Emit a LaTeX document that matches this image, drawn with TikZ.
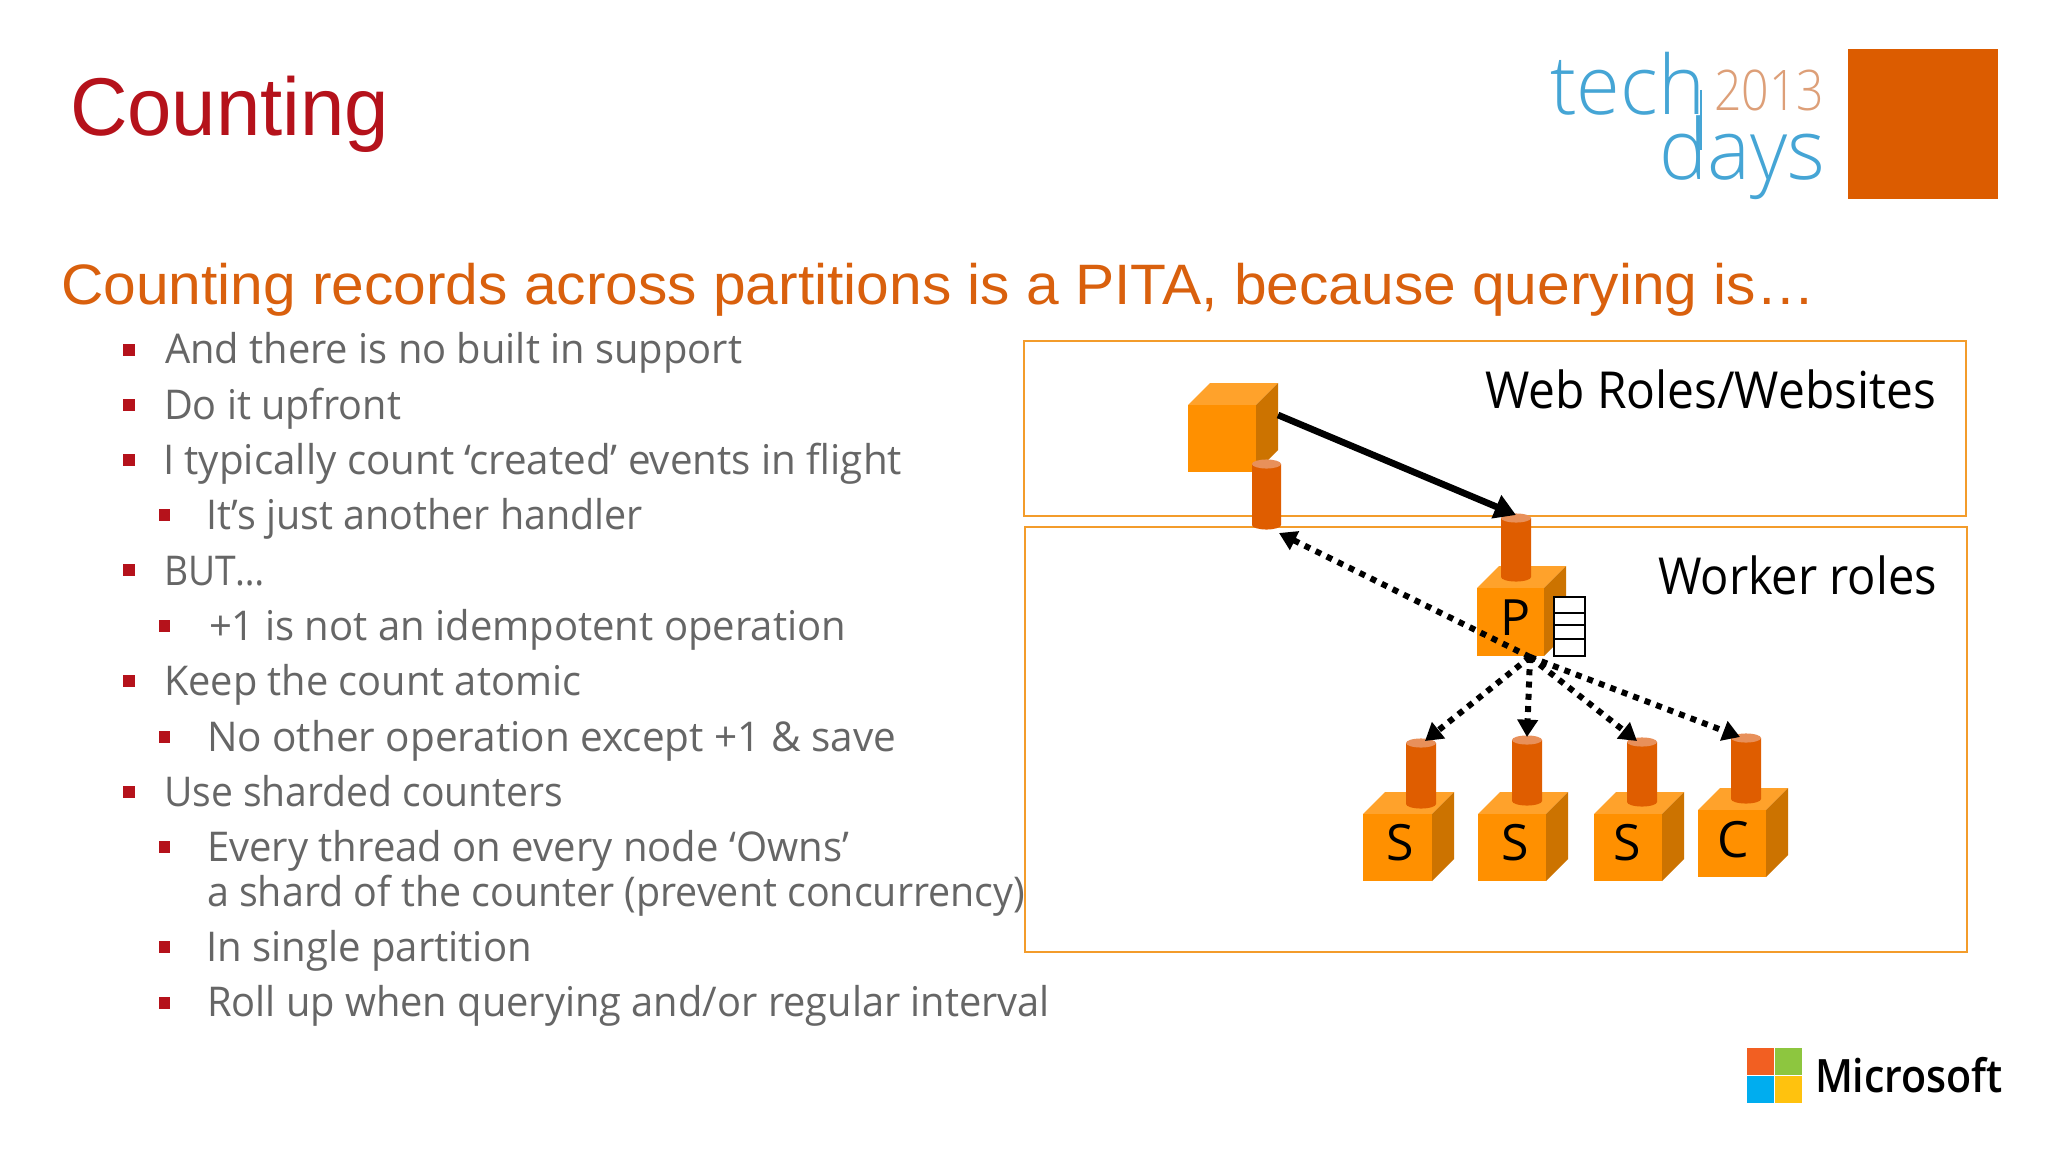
\documentclass[tikz,border=0pt]{standalone}
\usepackage{fontspec}
\usepackage{graphicx}
\usetikzlibrary{arrows.meta,shapes.geometric}
\setmainfont{Open Sans}
\newfontfamily\headfont{Liberation Sans}
\newfontfamily\logofont{Open Sans Light}
\newfontfamily\msfont{Open Sans Semibold}
\definecolor{titlered}{HTML}{B5121B}
\definecolor{headorange}{HTML}{D9600D}
\definecolor{squareorange}{HTML}{DC5C00}
\definecolor{bodygrey}{HTML}{666666}
\definecolor{boxline}{HTML}{F39C2B}
\definecolor{cubefront}{HTML}{FF9000}
\definecolor{cubetop}{HTML}{FFA22B}
\definecolor{cubeside}{HTML}{CC7300}
\definecolor{cylbody}{HTML}{DF5D00}
\definecolor{cyltop}{HTML}{E8905A}
\definecolor{logoblue}{HTML}{45A5D5}
\definecolor{logotan}{HTML}{DD9F78}
\definecolor{msred}{HTML}{F25F22}
\definecolor{msgreen}{HTML}{8DC63F}
\definecolor{msblue}{HTML}{00ADEF}
\definecolor{msyellow}{HTML}{FFC20E}
\newcommand\fit[2]{\resizebox{\dimexpr #1pt*3/4\relax}{\height}{#2}}
\newcommand\pxfont[1]{\pgfmathsetmacro\pxsz{#1*0.75}\fontsize{\pxsz}{\pxsz}\selectfont}
\tikzset{
  txt/.style={anchor=base west,inner sep=0pt,outer sep=0pt},
  bodytxt/.style={txt,text=bodygrey,font=\pxfont{41}},
  bul/.style={fill=titlered,inner sep=0pt,minimum size=8.4pt,rectangle},
  msq/.style={inner sep=0pt,minimum size=19.8pt,anchor=north west},
  frame/.style={draw=boxline,line width=1.6pt,inner sep=0pt,anchor=north west},
  solidarrow/.style={line width=5pt,-{Triangle[length=16pt,width=18pt]}},
  dotarrow/.style={line width=4.5pt,dash pattern=on 4.5pt off 4.7pt,-{Triangle[length=13pt,width=15pt]}},
  letter/.style={inner sep=0pt,anchor=base,font=\pxfont{50}}
}
\newcommand\cubeat[5]{%
  \fill[cubetop] (#2,#4)--(#2+22,#4-22)--(#3+22,#4-22)--(#3,#4)--cycle;
  \fill[cubeside] (#3,#4)--(#3+22,#4-22)--(#3+22,#5-22)--(#3,#5)--cycle;
  \node[fill=cubefront,inner sep=0pt,minimum width=(#3-#2)*0.75pt,minimum height=(#5-#4)*0.75pt,anchor=north west] (#1) at (#2,#4) {};
}
\newcommand\cylat[5]{%
  \fill[cylbody] (#2,#4) -- (#2,#5) arc[start angle=180,end angle=360,x radius=(#3-#2)*0.375pt,y radius=3.4pt] -- (#3,#4) -- cycle;
  \node[fill=cyltop,ellipse,inner sep=0pt,minimum width=(#3-#2)*0.75pt,minimum height=6.8pt] (#1) at ({(#2+#3)/2},#4) {};
}
\begin{document}
\begin{tikzpicture}[x=0.75pt,y=-0.75pt]
\useasboundingbox (0,0) rectangle (2048,1152);
\fill[white] (0,0) rectangle (2048,1152);
% titles
\node[txt,text=titlered,font=\headfont\pxfont{82}] (title) at (70,136) {\fit{319}{Counting}};
\node[txt,text=headorange,font=\headfont\pxfont{57}] (heading) at (61,304) {\fit{1754}{Counting records across partitions is a PITA, because querying is…}};
% tech days logo
\node[fill=squareorange,inner sep=0pt,minimum size=112.5pt,anchor=north west] (square) at (1848,49) {};
\node[txt,text=logoblue,font=\logofont\pxfont{82}] (tech) at (1550,115) {\fit{155}{tech}};
\node[txt,text=logotan,font=\logofont\pxfont{56}] (year) at (1714,111) {\fit{110}{2013}};
\node[txt,text=logoblue,font=\logofont\pxfont{84}] (days) at (1659,180) {\fit{166}{days}};
\draw[logoblue,line width=1.6pt] (1701,90) -- (1701,150);
% Microsoft logo
\node[msq,fill=msred] (msa) at (1747,1048) {};
\node[msq,fill=msgreen] (msb) at (1775,1048) {};
\node[msq,fill=msblue] (msc) at (1747,1076) {};
\node[msq,fill=msyellow] (msd) at (1775,1076) {};
\node[txt,font=\msfont\pxfont{46}] (ms) at (1815,1092) {\fit{188}{Microsoft}};
% bullets
\foreach \n/\x/\y in {a/129/350,b/129/405,c/129/460,d/164.5/515,e/129/570,f/164.5/626,g/129/681,h/164.5/737,i/129/792,j/164.5/847,k/164.5/947,l/164.5/1003}
  \node[bul] (bul\n) at (\x,\y) {};
% body
\node[bodytxt] (t1) at (165,363) {\fit{577}{And there is no built in support}};
\node[bodytxt] (t2) at (164,419) {\fit{237}{Do it upfront}};
\node[bodytxt] (t3) at (163,474) {\fit{739}{I typically count ‘created’ events in flight}};
\node[bodytxt] (t4) at (206,529) {\fit{437}{It’s just another handler}};
\node[bodytxt] (t5) at (164,585) {\fit{101}{BUT…}};
\node[bodytxt] (t6) at (209,640) {\fit{637}{+1 is not an idempotent operation}};
\node[bodytxt] (t7) at (164,695) {\fit{417}{Keep the count atomic}};
\node[bodytxt] (t8) at (207,751) {\fit{689}{No other operation except +1 \& save}};
\node[bodytxt] (t9) at (164,806) {\fit{399}{Use sharded counters}};
\node[bodytxt] (t10) at (207,861) {\fit{642}{Every thread on every node ‘Owns’}};
\node[bodytxt] (t11) at (207,906) {\fit{818}{a shard of the counter (prevent concurrency)}};
\node[bodytxt] (t12) at (206,961) {\fit{326}{In single partition}};
\node[bodytxt] (t13) at (207,1016) {\fit{843}{Roll up when querying and/or regular interval}};
% frames
\node[frame,minimum width=942*0.75pt,minimum height=175*0.75pt] (webframe) at (1023,340) {};
\node[frame,minimum width=942*0.75pt,minimum height=425*0.75pt] (workerframe) at (1024,526) {};
\node[txt,font=\pxfont{51}] (weblabel) at (1485,408) {\fit{451}{Web Roles/Websites}};
\node[txt,font=\pxfont{51}] (workerlabel) at (1658,594) {\fit{279}{Worker roles}};
% web role
\cubeat{webcube}{1188}{1256}{405}{472}
\cylat{webcyl}{1252}{1281}{464}{525}
% P
\cubeat{pcube}{1477}{1544}{588}{656}
\cylat{pcyl}{1501}{1531}{518}{577}
\node[letter] (pl) at (1516,635) {P};
% store
\foreach \n/\a/\b in {a/596/612,b/612/624,c/624/638,d/638/655}
  \node[draw=black,fill=white,line width=1.5pt,inner sep=0pt,anchor=north west,minimum width=31*0.75pt,minimum height=(\b-\a)*0.75pt] (store\n) at (1553,\a) {};
% workers
\cubeat{sacube}{1363}{1432}{814}{881}
\cylat{sacyl}{1406}{1436}{743}{804}
\node[letter] (sal) at (1400,860) {S};
\cubeat{sbcube}{1478}{1546}{814}{881}
\cylat{sbcyl}{1512}{1542}{740}{801}
\node[letter] (sbl) at (1515,860) {S};
\cubeat{sccube}{1594}{1662}{814}{881}
\cylat{sccyl}{1627}{1657}{742}{802}
\node[letter] (scl) at (1627,860) {S};
\cubeat{ccube}{1698}{1766}{810}{877}
\cylat{ccyl}{1731}{1761}{738}{799}
\node[letter] (cl) at (1733,857) {C};
% connectors
\coordinate (start) at (1278,415);
\coordinate (ptip) at (1516,515);
\coordinate (hub) at (1530,657);
\coordinate (webtip) at (1279,533);
\coordinate (satip) at (1425,741);
\coordinate (sbtip) at (1527,737);
\coordinate (sctip) at (1637,741);
\coordinate (ctip) at (1740,737);
\draw[solidarrow] (start) -- (ptip);
\draw[dotarrow] (hub) -- (webtip);
\draw[dotarrow] (hub) -- (satip);
\draw[dotarrow] (hub) -- (sbtip);
\draw[dotarrow] (hub) -- (sctip);
\draw[dotarrow] (hub) -- (ctip);
\end{tikzpicture}
\end{document}
